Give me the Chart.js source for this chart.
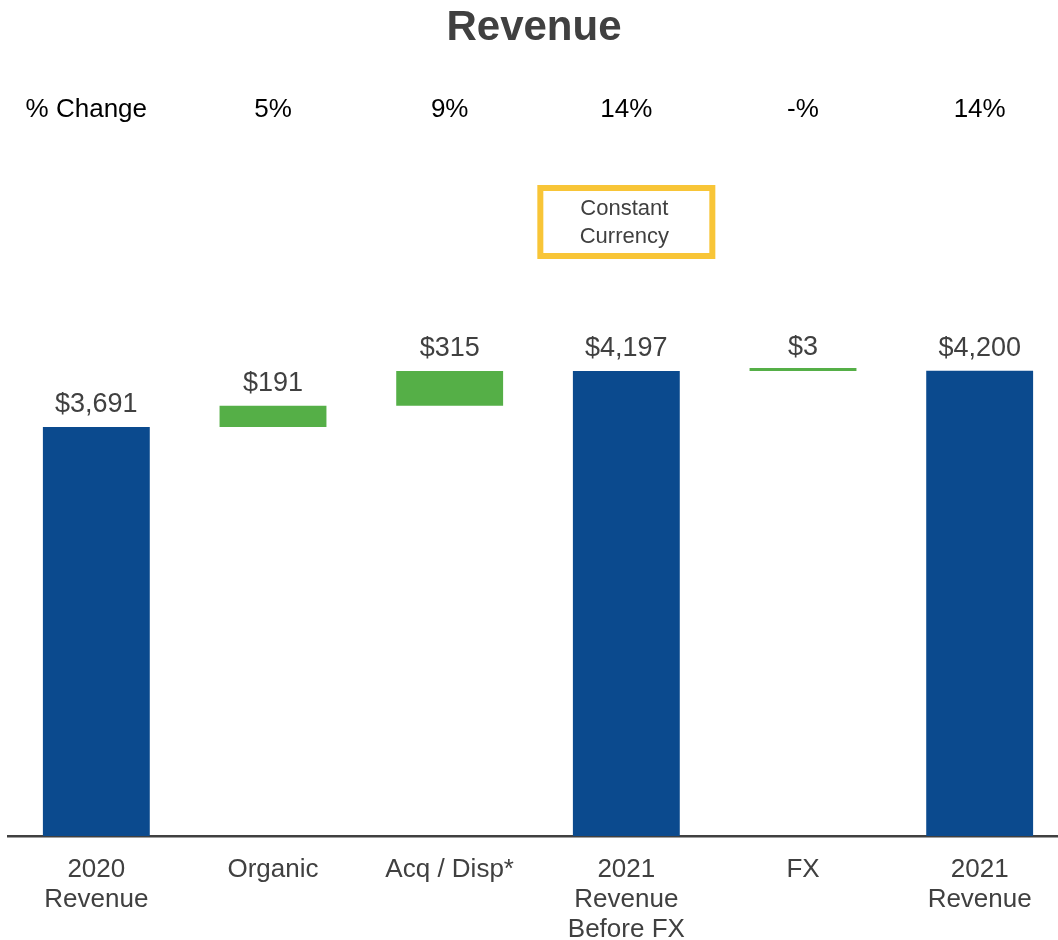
<!DOCTYPE html>
<html>
<head>
<meta charset="utf-8">
<script src="https://cdn.jsdelivr.net/npm/chart.js@4"></script>
<style>
  html, body { margin: 0; padding: 0; background: #fff; overflow: hidden; }
  #wrap { width: 1070px; height: 940px; }
</style>
</head>
<body>
<div id="wrap"><canvas id="revChart"></canvas></div>
<script>
const categories = [['2020', 'Revenue'], 'Organic', 'Acq / Disp*', ['2021', 'Revenue', 'Before FX'], 'FX', ['2021', 'Revenue']];
const amounts = [3691, 191, 315, 4197, 3, 4200];
const barKinds = ['total', 'change', 'change', 'total', 'change', 'total'];
const valueLabels = ['$3,691', '$191', '$315', '$4,197', '$3', '$4,200'];
const pctLabels = ['% Change', '5%', '9%', '14%', '-%', '14%'];
const boxLines = ['Constant', 'Currency'];

const FONT = "'Liberation Sans', Arial, sans-serif";
const GREY = '#404040';

// waterfall: totals start at zero, changes float on the running total
let running = 0;
const ranges = amounts.map((v, i) => {
  if (barKinds[i] === 'total') { running = v; return [0, v]; }
  const r = [running, running + v];
  running += v;
  return r;
});
const colors = barKinds.map(k => k === 'total' ? '#0B4A8E' : '#55AF47');

const overlay = {
  id: 'overlay',
  afterDraw(chart) {
    const ctx = chart.ctx;
    const x = chart.scales.x;
    const meta = chart.getDatasetMeta(0);
    ctx.save();

    // title
    ctx.fillStyle = GREY;
    ctx.font = 'bold 42px ' + FONT;
    ctx.textAlign = 'center';
    ctx.textBaseline = 'middle';
    ctx.fillText('Revenue', 534, 28);

    // % change row
    ctx.fillStyle = '#000';
    ctx.font = '26px ' + FONT;
    pctLabels.forEach((t, i) => {
      const px = x.getPixelForValue(i) - (i === 0 ? 10 : 0);
      ctx.fillText(t, px, 110);
    });

    // value labels above bars
    ctx.fillStyle = GREY;
    ctx.font = '27px ' + FONT;
    ctx.textBaseline = 'alphabetic';
    meta.data.forEach((bar, i) => {
      const top = Math.min(bar.y, bar.base);
      const gap = Math.abs(bar.base - bar.y) < 5 ? 13 : 15;
      ctx.fillText(valueLabels[i], bar.x, top - gap);
    });

    // constant currency box
    const cx = x.getPixelForValue(3);
    ctx.strokeStyle = '#F8C537';
    ctx.lineWidth = 6;
    ctx.strokeRect(cx - 86, 188, 172, 68);
    ctx.fillStyle = GREY;
    ctx.font = '22px ' + FONT;
    ctx.textBaseline = 'middle';
    boxLines.forEach((t, i) => ctx.fillText(t, cx - 2, 209 + i * 28));

    ctx.restore();
  }
};

new Chart(document.getElementById('revChart'), {
  type: 'bar',
  data: {
    labels: categories,
    datasets: [{
      data: ranges,
      backgroundColor: colors,
      borderWidth: 0,
      barPercentage: 1,
      categoryPercentage: 0.605,
      minBarLength: 3
    }]
  },
  options: {
    responsive: true,
    maintainAspectRatio: false,
    animation: false,
    layout: { padding: { top: 282, left: 8, right: 2, bottom: 0 } },
    plugins: {
      legend: { display: false },
      title: { display: false },
      tooltip: { enabled: false }
    },
    scales: {
      x: {
        grid: { display: false, drawTicks: false },
        border: { display: true, color: GREY, width: 2.5 },
        ticks: {
          color: GREY,
          font: { family: FONT, size: 26, lineHeight: 1.15 },
          padding: 19,
          maxRotation: 0,
          autoSkip: false
        },
        afterFit: (s) => { s.height = 104; }
      },
      y: {
        display: false,
        min: 0,
        max: 5000
      }
    }
  },
  plugins: [overlay]
});
</script>
</body>
</html>
